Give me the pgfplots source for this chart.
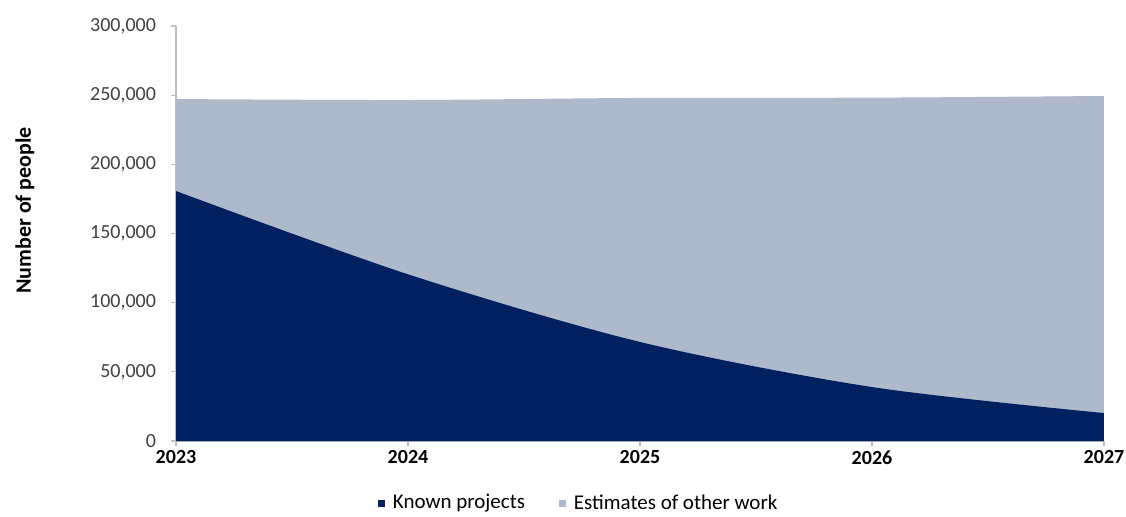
\documentclass[border=0pt]{standalone}
\usepackage{pgfplots}
\pgfplotsset{compat=1.18}
\usepackage{fontspec}
\setmainfont{Carlito}
\definecolor{known}{RGB}{0,32,96}
\definecolor{other}{RGB}{174,185,204}
\definecolor{axisgray}{RGB}{191,191,191}
\definecolor{ticklab}{RGB}{64,64,64}
\begin{document}
\begin{tikzpicture}
\useasboundingbox (0,0) rectangle (563pt,258pt);
\begin{axis}[
  at={(88pt,37.5pt)}, anchor=south west,
  scale only axis, width=464pt, height=207.5pt,
  xmin=2023, xmax=2027, ymin=0, ymax=300000,
  xtick={2023,2024,2025,2026,2027},
  xticklabels={2023,2024,2025,2026,2027},
  ytick={0,50000,100000,150000,200000,250000,300000},
  scaled y ticks=false,
  /pgf/number format/fixed,
  /pgf/number format/1000 sep={,},
  /pgf/number format/assume math mode=true,
  yticklabel style={font=\fontsize{10}{12}\selectfont, text=ticklab, xshift=-4pt},
  xticklabel style={font=\bfseries\fontsize{10}{12}\selectfont, text=black, yshift=1.2pt},
  axis x line*=bottom, axis y line*=left,
  axis line style={axisgray, line width=0.6pt},
  x axis line style={-}, y axis line style={-},
  tick style={axisgray, line width=0.6pt},
  tick align=outside, major tick length=2.5pt,
  ylabel={Number of people},
  ylabel style={font=\bfseries\fontsize{11}{13}\selectfont, xshift=11.5pt, yshift=21pt},
  legend style={at={(0.435,-0.150)}, anchor=center, draw=none, fill=none,
    font=\fontsize{10.5}{12}\selectfont, legend columns=2,
    /tikz/every even column/.append style={column sep=15pt}},
  legend image code/.code={\fill[#1,draw=none] (0pt,-1.8pt) rectangle (3.6pt,1.8pt); \path[draw=none,fill=none] (0pt,0pt) -- (5.5pt,0pt);},
  clip=true,
]
\addplot[fill=other, draw=none, smooth, forget plot] coordinates {
  (2023,247200) (2024,246500) (2025,248000) (2026,248200) (2027,249400)
} \closedcycle;
\addplot[fill=known, draw=none, smooth] coordinates {
  (2023,180700) (2024,120500) (2025,71600) (2026,39000) (2027,20200)
} \closedcycle;
\addlegendentry{Known projects}
\addlegendimage{fill=other, draw=none}
\addlegendentry{Estimates of other work}
\end{axis}
\end{tikzpicture}
\end{document}
